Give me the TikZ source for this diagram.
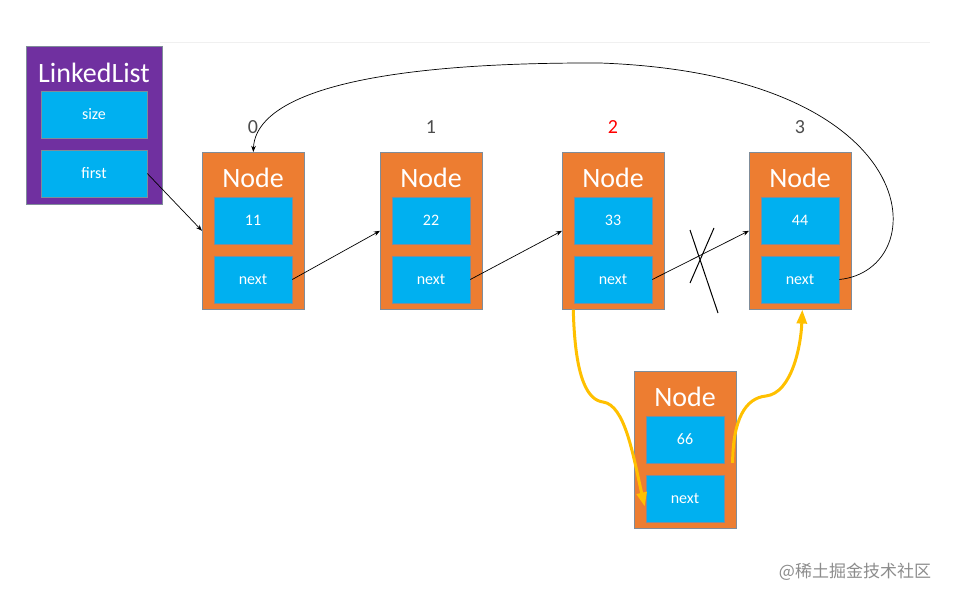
\documentclass[tikz,border=0pt]{standalone}
\usepackage{fontspec}
\setmainfont{Carlito}
\newfontfamily\cjk{Noto Sans CJK SC}
\usetikzlibrary{arrows.meta}
\definecolor{nodeOrange}{HTML}{ED7D31}
\definecolor{fieldBlue}{HTML}{00B0F0}
\definecolor{listPurple}{HTML}{7030A0}
\definecolor{linkYellow}{HTML}{FFC000}
\definecolor{frameGray}{HTML}{7F8C99}
\begin{document}
\begin{tikzpicture}[x=1pt, y=-1pt, >=Stealth, semithick]
        \tikzset{
           listBox/.style={
                        rectangle,
                        draw=frameGray,
                        fill=nodeOrange,
                        minimum width=102pt,
                        minimum height=157pt,
                        anchor=north west
                       },
           headBox/.style={
                        rectangle,
                        draw=frameGray,
                        fill=listPurple,
                        minimum width=136pt,
                        minimum height=158pt,
                        anchor=north west
                       },
           field/.style={
                        rectangle,
                        draw=frameGray,
                        fill=fieldBlue,
                        text=white,
                        font=\fontsize{16}{18}\selectfont,
                        minimum width=78pt,
                        minimum height=47pt
                       },
           title/.style={
                        text=white,
                        font=\fontsize{28}{30}\selectfont
                       },
           index/.style={
                        text=black!70,
                        font=\fontsize{20}{22}\selectfont
                       },
           link/.style={->, line width=0.7pt, black},
           insert/.style={-{Triangle[length=14pt,width=10pt]}, linkYellow, line width=3pt},
                 };
    \useasboundingbox (0,0) rectangle (955,601);
    \draw[black!6, line width=1pt] (160,43) -- (930,43);
    %--------------------
        \node[headBox]  (list)  at (26,46)   {};
        \node[title]    (listT) at (94,73)   {LinkedList};
        \node[field, minimum width=106pt] (size)  at (94,114.5) {size};
        \node[field, minimum width=106pt] (first) at (94,173.5) {first};

        \node[listBox]  (n0)    at (202,152) {};
        \node[title]    (n0T)   at (253,178) {Node};
        \node[field]    (n0v)   at (253,220.5) {11};
        \node[field]    (n0n)   at (253,279.5) {next};
        \node[index]    (i0)    at (253,127) {0};

        \node[listBox]  (n1)    at (380,152) {};
        \node[title]    (n1T)   at (431,178) {Node};
        \node[field]    (n1v)   at (431,220.5) {22};
        \node[field]    (n1n)   at (431,279.5) {next};
        \node[index]    (i1)    at (431,127) {1};

        \node[listBox]  (n2)    at (562,152) {};
        \node[title]    (n2T)   at (613,178) {Node};
        \node[field]    (n2v)   at (613,220.5) {33};
        \node[field]    (n2n)   at (613,279.5) {next};
        \node[index, text=red] (i2) at (613,127) {2};

        \node[listBox]  (n3)    at (749,152) {};
        \node[title]    (n3T)   at (800,178) {Node};
        \node[field]    (n3v)   at (800,220.5) {44};
        \node[field]    (n3n)   at (800,279.5) {next};
        \node[index]    (i3)    at (800,127) {3};

        \node[listBox]  (n4)    at (634,371) {};
        \node[title]    (n4T)   at (685,397) {Node};
        \node[field]    (n4v)   at (685,439.5) {66};
        \node[field]    (n4n)   at (685,498.5) {next};

        \node[text=black!45, font=\cjk\fontsize{17}{19}\selectfont] (mark) at (855,572) {@稀土掘金技术社区};
    %--------------------
        \draw[link] (first.east) -- (n0.west);
        \draw[link] (n0n.east) -- (n1.west);
        \draw[link] (n1n.east) -- (n2.west);
        \draw[link] (n2n.east) -- (n3.west);
        \draw[link] (n3n.east) .. controls (935,270) and (930,75) .. (600,63)
                    .. controls (330,62) and (255,105) .. (n0.north);

        \draw[black, line width=1pt] (690,230) -- (718,313);
        \draw[black, line width=1pt] (690,283) -- (714,228);

        \draw[insert] ([xshift=-40pt]n2.south) .. controls (575,380) and (588,400) .. (603,402)
                      .. controls (625,405) and (633,455) .. ([xshift=-1pt,yshift=-8pt]n4n.west);
        \draw[insert] ([xshift=-4pt,yshift=-13pt]n4.east) .. controls (733,420) and (745,398) .. (766,396)
                      .. controls (792,393) and (801,345) .. ([xshift=2pt]n3.south);
    \end{tikzpicture}
\end{document}
